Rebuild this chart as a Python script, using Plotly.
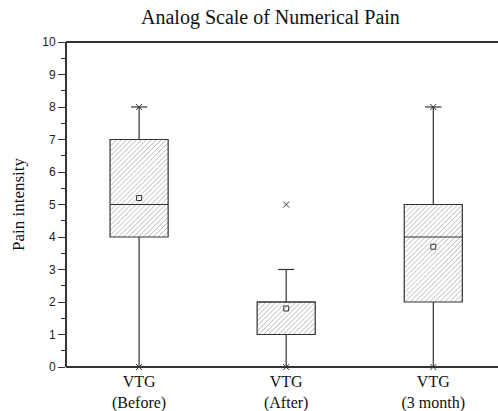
import plotly.graph_objects as go

categories = ["VTG<br>(Before)", "VTG<br>(After)", "VTG<br>(3 month)"]
positions = [1, 2, 3]
q1 = [4, 1, 2]
median = [5, 2, 4]
q3 = [7, 2, 5]
lower = [0, 0, 0]
upper = [8, 3, 8]
means = [5.2, 1.8, 3.7]
minmax_lo = [0, 0, 0]
minmax_hi = [8, 5, 8]

BOX_W = 0.395
CAP = 0.055
LINE = "#333333"

fig = go.Figure()

# boxes as hatched bars
fig.add_trace(go.Bar(
    x=positions, y=[b - a for a, b in zip(q1, q3)], base=q1, width=BOX_W,
    marker=dict(color="white", line=dict(color=LINE, width=1.2),
                pattern=dict(shape="/", fgcolor="#555555", bgcolor="white", size=3.5, solidity=0.25)),
    showlegend=False, hoverinfo="skip"))

# whiskers, caps, medians
wx, wy = [], []
for p, a, b, lo, hi, m in zip(positions, q1, q3, lower, upper, median):
    wx += [p, p, None, p, p, None]
    wy += [lo, a, None, b, hi, None]
    wx += [p - CAP, p + CAP, None]
    wy += [hi, hi, None]
    wx += [p - BOX_W / 2, p + BOX_W / 2]
    wy += [m, m]
    if p != positions[-1]:
        wx.append(None)
        wy.append(None)
fig.add_trace(go.Scatter(x=wx, y=wy, mode="lines", line=dict(color=LINE, width=1.2),
                         showlegend=False, hoverinfo="skip"))

# mean markers
fig.add_trace(go.Scatter(x=positions, y=means, mode="markers",
                         marker=dict(symbol="square-open", size=5, color=LINE, line=dict(width=1)),
                         showlegend=False, hoverinfo="skip"))

# min / max markers
fig.add_trace(go.Scatter(x=positions + positions, y=minmax_lo + minmax_hi, mode="markers",
                         marker=dict(symbol="x-thin", size=6, color=LINE, line=dict(width=1, color=LINE)),
                         showlegend=False, hoverinfo="skip", cliponaxis=False))

frame = dict(color=LINE, width=2)
fig.update_layout(
    width=498, height=411,
    margin=dict(l=66, r=0, t=42, b=44, autoexpand=False),
    plot_bgcolor="white", paper_bgcolor="white",
    barmode="overlay",
    title=dict(text="Analog Scale of Numerical Pain", x=0.543, xanchor="center", y=0.958, yanchor="middle",
               font=dict(family="Liberation Serif", size=20, color="#111111")),
    xaxis=dict(range=[0.503, 3.44], tickmode="array", tickvals=positions, ticktext=categories,
               showline=False, ticks="", showgrid=False, zeroline=False, automargin=False,
               ticklabelstandoff=3,
               tickfont=dict(family="Liberation Serif", size=16, color="#111111")),
    yaxis=dict(range=[0, 10], tickmode="linear", tick0=0, dtick=1,
               showline=False, ticks="outside", ticklen=7,
               tickwidth=1, tickcolor=LINE, showgrid=False, zeroline=False, automargin=False,
               minor=dict(ticks="outside", ticklen=4, dtick=0.5, tickcolor=LINE, tickwidth=1),
               tickfont=dict(family="Liberation Sans", size=12, color="#222222"),
               title=dict(text="Pain intensity", standoff=13,
                          font=dict(family="Liberation Serif", size=17, color="#111111"))),
    shapes=[
        dict(type="line", xref="paper", yref="paper", x0=0, x1=1, y0=1, y1=1, line=frame, layer="above"),
        dict(type="line", xref="paper", yref="paper", x0=0, x1=1, y0=0, y1=0, line=frame, layer="above"),
        dict(type="line", xref="paper", yref="paper", x0=0, x1=0, y0=0, y1=1, line=frame, layer="above"),
    ],
)

fig.write_html("out.html", config={"staticPlot": True, "displayModeBar": False})
